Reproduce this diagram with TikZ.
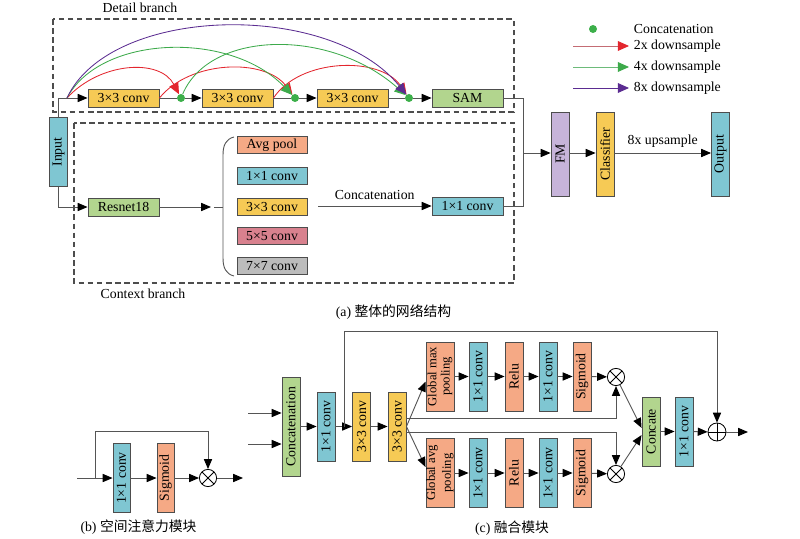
\documentclass[tikz,border=0pt]{standalone}
\usepackage{fontspec}
\setmainfont{Liberation Serif}
\newfontfamily\cjk{Noto Sans CJK SC}
\usetikzlibrary{arrows.meta}
\definecolor{cteal}{HTML}{7FC6D2}
\definecolor{cyel}{HTML}{F6CA55}
\definecolor{cgrn}{HTML}{B2D58E}
\definecolor{csal}{HTML}{F5A985}
\definecolor{cpur}{HTML}{C7B4DA}
\definecolor{cpink}{HTML}{D8818E}
\definecolor{cgray}{HTML}{BCBCBC}
\definecolor{boxline}{HTML}{4D4D4D}
\definecolor{wirec}{HTML}{555555}
\definecolor{dotgrn}{HTML}{3CAF4A}
\definecolor{arcred}{HTML}{E3262E}
\definecolor{arcgrn}{HTML}{3DAA4B}
\definecolor{arcpur}{HTML}{5B2C91}
\definecolor{legred}{HTML}{C46C74}
\definecolor{leggrn}{HTML}{6DBB7A}
\tikzset{
  block/.style={
    draw=boxline,
    line width=0.65pt,
    inner sep=0pt,
    align=center
  },
  hblock/.style={block, minimum width=1.775cm, minimum height=0.45cm},
  vblock/.style={block, minimum width=0.45cm, minimum height=1.725cm},
  tallblock/.style={block, minimum width=0.45cm, minimum height=2.1cm},
  wire/.style={draw=wirec, line width=0.65pt},
  flow/.style={wire, -{Triangle[length=7pt,width=5.8pt,color=black]}},
  skip/.style={line width=0.6pt, -{Triangle[length=8pt,width=7pt]}},
  dashbox/.style={draw=boxline, line width=0.8pt, dash pattern=on 4pt off 2.5pt},
  cdot/.style={circle, fill=dotgrn, inner sep=0pt, minimum size=0.2cm},
  mulop/.style={
    circle, draw=black, line width=0.6pt, fill=white,
    inner sep=0pt, minimum size=0.43cm,
    path picture={\draw[line width=0.6pt]
      (path picture bounding box.north west) -- (path picture bounding box.south east)
      (path picture bounding box.south west) -- (path picture bounding box.north east);}
  },
  addop/.style={
    circle, draw=black, line width=0.6pt, fill=white,
    inner sep=0pt, minimum size=0.45cm,
    path picture={\draw[line width=0.6pt]
      (path picture bounding box.north) -- (path picture bounding box.south)
      (path picture bounding box.west) -- (path picture bounding box.east);}
  },
  every picture/.style={font=\fontsize{9.8pt}{11pt}\selectfont}
}
\newcommand{\twoline}[2]{\rotatebox{90}{\fontsize{9pt}{9.5pt}\selectfont\shortstack{#1\\#2}}}

\begin{document}
\begin{tikzpicture}[x=0.025cm, y=-0.025cm]
  \useasboundingbox (0,0) rectangle (800,538);

  % (a) overall network
  \draw[dashbox] (53,19) rectangle (514,112);
  \draw[dashbox] (74,123) rectangle (514,283);
  \node (detlbl) at (140,8) {Detail branch};
  \node (ctxlbl) at (143,294) {Context branch};

  \node[vblock, fill=cteal] (input) at (58.5,152) {\rotatebox{90}{Input}};
  \node[hblock, fill=cyel] (d1) at (123.5,98) {3×3 conv};
  \node[cdot] (c1) at (181,98) {};
  \node[hblock, fill=cyel] (d2) at (237.5,98) {3×3 conv};
  \node[cdot] (c2) at (295,98) {};
  \node[hblock, fill=cyel] (d3) at (352.5,98) {3×3 conv};
  \node[cdot] (c3) at (409,98) {};
  \node[hblock, fill=cgrn] (sam) at (467.5,98) {SAM};
  \coordinate (astart) at (67,98);

  \draw[flow] (input.north) |- (d1.west);
  \draw[wire] (d1.east) -- (c1);
  \draw[flow] (c1) -- (d2.west);
  \draw[wire] (d2.east) -- (c2);
  \draw[flow] (c2) -- (d3.west);
  \draw[wire] (d3.east) -- (c3);
  \draw[flow] (c3) -- (sam.west);

  % skip connections
  \draw[skip, arcred] (astart) .. controls (100,62) and (160,58) .. (c1);
  \draw[skip, arcred] (d1.east) .. controls (190,60) and (265,58) .. (c2);
  \draw[skip, arcred] (d2.east) .. controls (300,58) and (380,56) .. (c3);
  \draw[skip, arcgrn] (astart) .. controls (100,35) and (230,30) .. (c2);
  \draw[skip, arcgrn] (c1) .. controls (210,30) and (330,28) .. (c3);
  \draw[skip, arcpur] (astart) .. controls (110,5) and (330,0) .. (c3);

  % legend
  \node[cdot] (lgdot) at (593,29) {};
  \node[anchor=west] (lgcat) at (629,29) {Concatenation};
  \node[anchor=west] (lg2) at (629,46) {2x downsample};
  \node[anchor=west] (lg4) at (629,67) {4x downsample};
  \node[anchor=west] (lg8) at (629,88) {8x downsample};
  \coordinate (l2) at (573,46);
  \coordinate (l4) at (573,67);
  \coordinate (l8) at (573,88);
  \draw[line width=0.6pt, legred, -{Triangle[length=8pt,width=7pt,color=arcred]}] (l2) -- (lg2.west);
  \draw[line width=0.6pt, leggrn, -{Triangle[length=8pt,width=7pt,color=arcgrn]}] (l4) -- (lg4.west);
  \draw[skip, arcpur] (l8) -- (lg8.west);

  % context branch
  \node[hblock, fill=cgrn] (res) at (123.5,207) {Resnet18};
  \coordinate (brtip) at (211,207);
  \node[hblock, fill=csal, minimum width=1.75cm, minimum height=0.43cm] (ap) at (272,145) {Avg pool};
  \node[hblock, fill=cteal, minimum width=1.75cm, minimum height=0.43cm] (k1) at (272,176) {1×1 conv};
  \node[hblock, fill=cyel, minimum width=1.75cm, minimum height=0.43cm] (k3) at (272,207) {3×3 conv};
  \node[hblock, fill=cpink, minimum width=1.75cm, minimum height=0.43cm] (k5) at (272,236) {5×5 conv};
  \node[hblock, fill=cgray, minimum width=1.75cm, minimum height=0.43cm] (k7) at (272,266) {7×7 conv};
  \node[hblock, fill=cteal] (cc) at (467.5,206) {1×1 conv};
  \coordinate (catstart) at (318,206);

  \draw[flow] (input.south) |- (res.west);
  \draw[flow] (res.east) -- (brtip);
  \draw[wire] (214,207) -- (223,207);
  \draw[wire] (234,137) .. controls (226,139) and (223,145) .. (223,155)
    -- (223,258) .. controls (223,268) and (226,274) .. (234,276);
  \draw[flow] (catstart) -- node[above, yshift=1pt] (catlbl) {Concatenation} (cc.west);

  \node[tallblock, fill=cpur] (fm) at (560,154) {\rotatebox{90}{FM}};
  \node[tallblock, fill=cyel] (cls) at (605,154) {\rotatebox{90}{Classifier}};
  \node[tallblock, fill=cteal] (out) at (720.5,154) {\rotatebox{90}{Output}};
  \coordinate (join) at (523,153);
  \draw[wire] (sam.east) -| (join);
  \draw[wire] (cc.east) -| (join);
  \draw[flow] (join) -- (join -| fm.west);
  \draw[flow] (fm.east |- join) -- (join -| cls.west);
  \draw[flow] (cls.east |- join) -- node[above] (uplbl) {8x upsample} (join -| out.west);

  \node (capa) at (393.5,312) {(a) {\cjk 整体的网络结构}};

  % (b) spatial attention module
  \node[vblock, minimum width=0.425cm, fill=cteal] (b1) at (121.5,478) {\rotatebox{90}{1×1 conv}};
  \node[vblock, minimum width=0.425cm, fill=csal] (bs) at (165.5,478) {\rotatebox{90}{Sigmoid}};
  \node[mulop] (bx) at (208,478) {};
  \coordinate (bin) at (77,478);
  \coordinate (bsplit) at (95,478);
  \coordinate (bout) at (243,478);
  \draw[flow] (bin) -- (b1.west);
  \draw[flow] (bsplit) -- ++(0,-47) -| (bx.north);
  \draw[flow] (b1) -- (bs);
  \draw[flow] (bs) -- (bx);
  \draw[flow] (bx) -- (bout);
  \node (capb) at (138.5,527) {(b) {\cjk 空间注意力模块}};

  % (c) fusion module
  \node[block, minimum width=0.45cm, minimum height=2.475cm, fill=cgrn] (cat) at (291,426.5) {\rotatebox{90}{Concatenation}};
  \node[vblock, fill=cteal] (c11) at (326,426.5) {\rotatebox{90}{1×1 conv}};
  \node[vblock, fill=cyel] (c31) at (361.5,426.5) {\rotatebox{90}{3×3 conv}};
  \node[vblock, fill=cyel] (c32) at (397,426.5) {\rotatebox{90}{3×3 conv}};
  \coordinate (cin1) at (248,413);
  \coordinate (cin2) at (248,444);
  \coordinate (csplit) at (344,426.5);
  \draw[flow] (cin1) -- (cin1 -| cat.west);
  \draw[flow] (cin2) -- (cin2 -| cat.west);
  \draw[flow] (cat) -- (c11);
  \draw[flow] (c11) -- (c31);
  \draw[flow] (c31) -- (c32);

  \node[block, minimum width=0.7cm, minimum height=1.725cm, fill=csal] (gmp) at (440,376.5)
    {\twoline{Global max}{pooling}};
  \node[vblock, fill=cteal] (u1) at (478,376.5) {\rotatebox{90}{1×1 conv}};
  \node[vblock, fill=csal] (ur) at (514,376.5) {\rotatebox{90}{Relu}};
  \node[vblock, fill=cteal] (u2) at (548,376.5) {\rotatebox{90}{1×1 conv}};
  \node[vblock, fill=csal] (us) at (582,376.5) {\rotatebox{90}{Sigmoid}};
  \node[mulop] (mx1) at (616,377) {};

  \node[block, minimum width=0.7cm, minimum height=1.725cm, fill=csal] (gap) at (440,473)
    {\twoline{Global avg}{pooling}};
  \node[vblock, fill=cteal] (w1) at (478,473) {\rotatebox{90}{1×1 conv}};
  \node[vblock, fill=csal] (wr) at (514,473) {\rotatebox{90}{Relu}};
  \node[vblock, fill=cteal] (w2) at (548,473) {\rotatebox{90}{1×1 conv}};
  \node[vblock, fill=csal] (ws) at (582,473) {\rotatebox{90}{Sigmoid}};
  \node[mulop] (mx2) at (616,474) {};

  \draw[flow] (c32.east) -- ([yshift=-0.13cm]gmp.west);
  \draw[flow] (c32.east) -- ([yshift=0.15cm]gap.west);
  \draw[flow] ([yshift=0.21cm]c32.east) -| (mx1.south);
  \draw[flow] ([yshift=-0.16cm]c32.east) -| (mx2.north);
  \draw[flow] (gmp) -- (u1);
  \draw[flow] (u1) -- (ur);
  \draw[flow] (ur) -- (u2);
  \draw[flow] (u2) -- (us);
  \draw[flow] (us) -- (mx1);
  \draw[flow] (gap) -- (w1);
  \draw[flow] (w1) -- (wr);
  \draw[flow] (wr) -- (w2);
  \draw[flow] (w2) -- (ws);
  \draw[flow] (ws) -- (mx2);

  \node[vblock, fill=cgrn] (cct) at (651,431.5) {\rotatebox{90}{Concate}};
  \node[vblock, fill=cteal] (cf) at (684,431.5) {\rotatebox{90}{1×1 conv}};
  \node[addop] (cop) at (717,432) {};
  \coordinate (cout) at (748,432);
  \draw[flow] (mx1) -- ([yshift=0.09cm]cct.west);
  \draw[flow] (mx2) -- ([yshift=-0.09cm]cct.west);
  \draw[flow] (cct) -- (cf);
  \draw[flow] (cf) -- (cop);
  \draw[flow] (cop) -- (cout);
  \draw[flow] (csplit) -- ++(0,-95.5) -| (cop.north);

  \node (capc) at (512,528) {(c) {\cjk 融合模块}};
\end{tikzpicture}
\end{document}
